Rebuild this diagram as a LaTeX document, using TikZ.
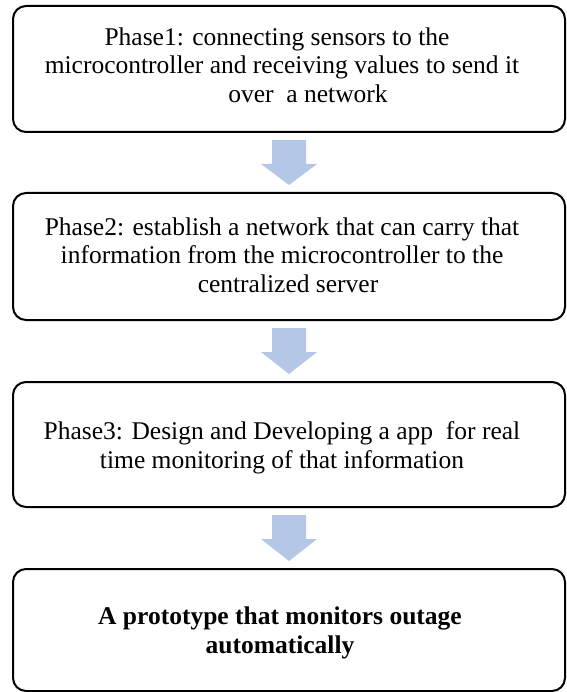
\documentclass[tikz,border=0pt]{standalone}
\usepackage{fontspec}
\setmainfont{Liberation Serif}
\usetikzlibrary{calc}
\definecolor{arrowblue}{RGB}{180,199,231}
\tikzset{
  phasebox/.style={draw=black, line width=2pt, rounded corners=13pt,
    minimum width=552pt, inner sep=0pt},
  phasetext/.style={align=center, inner sep=0pt,
    font=\fontsize{25.5}{28.5}\selectfont},
  arrowshape/.style={fill=arrowblue, draw=none}
}
% block arrow between the bottom of one box and the top of the next
\newcommand{\stagearrow}[2]{%
  \fill[arrowshape]
    ($(#1.south)+(-17,7)$) -- ($(#1.south)+(17,7)$) --
    ($(#1.south)+(17,31)$) -- ($(#1.south)+(28,31)$) --
    ($(#2.north)+(0,-7)$) --
    ($(#1.south)+(-28,31)$) -- ($(#1.south)+(-17,31)$) -- cycle;}
\begin{document}
\begin{tikzpicture}[x=1pt, y=-1pt]
  \useasboundingbox (0,0) rectangle (566,692);

  % the four stage boxes
  \node[phasebox, minimum height=126pt] (b1) at (289,69) {};
  \node[phasebox, minimum height=127pt] (b2) at (289,256.5) {};
  \node[phasebox, minimum height=125pt] (b3) at (289,444.5) {};
  \node[phasebox, minimum height=122pt] (b4) at (289,630) {};

  % texts
  \node[phasetext] (t1) at (282,65)
    {Phase1: connecting sensors to the\hspace*{10pt}\\
     microcontroller and receiving values to send it\\
     \hspace*{52pt}over\ \ a network};
  \node[phasetext] (t2) at (282,255)
    {Phase2: establish a network that can carry that\\
     information from the microcontroller to the\\
     \hspace*{12pt}centralized server};
  \node[phasetext] (t3) at (282,448)
    {Phase3: Design and Developing a app\ \ for real\\
     time monitoring of that information};
  \node[phasetext, font=\fontsize{25.5}{28.5}\selectfont\bfseries] (t4) at (280,633)
    {A prototype that monitors outage\\
     automatically};

  % arrows between the stages
  \stagearrow{b1}{b2}
  \stagearrow{b2}{b3}
  \stagearrow{b3}{b4}
\end{tikzpicture}
\end{document}
